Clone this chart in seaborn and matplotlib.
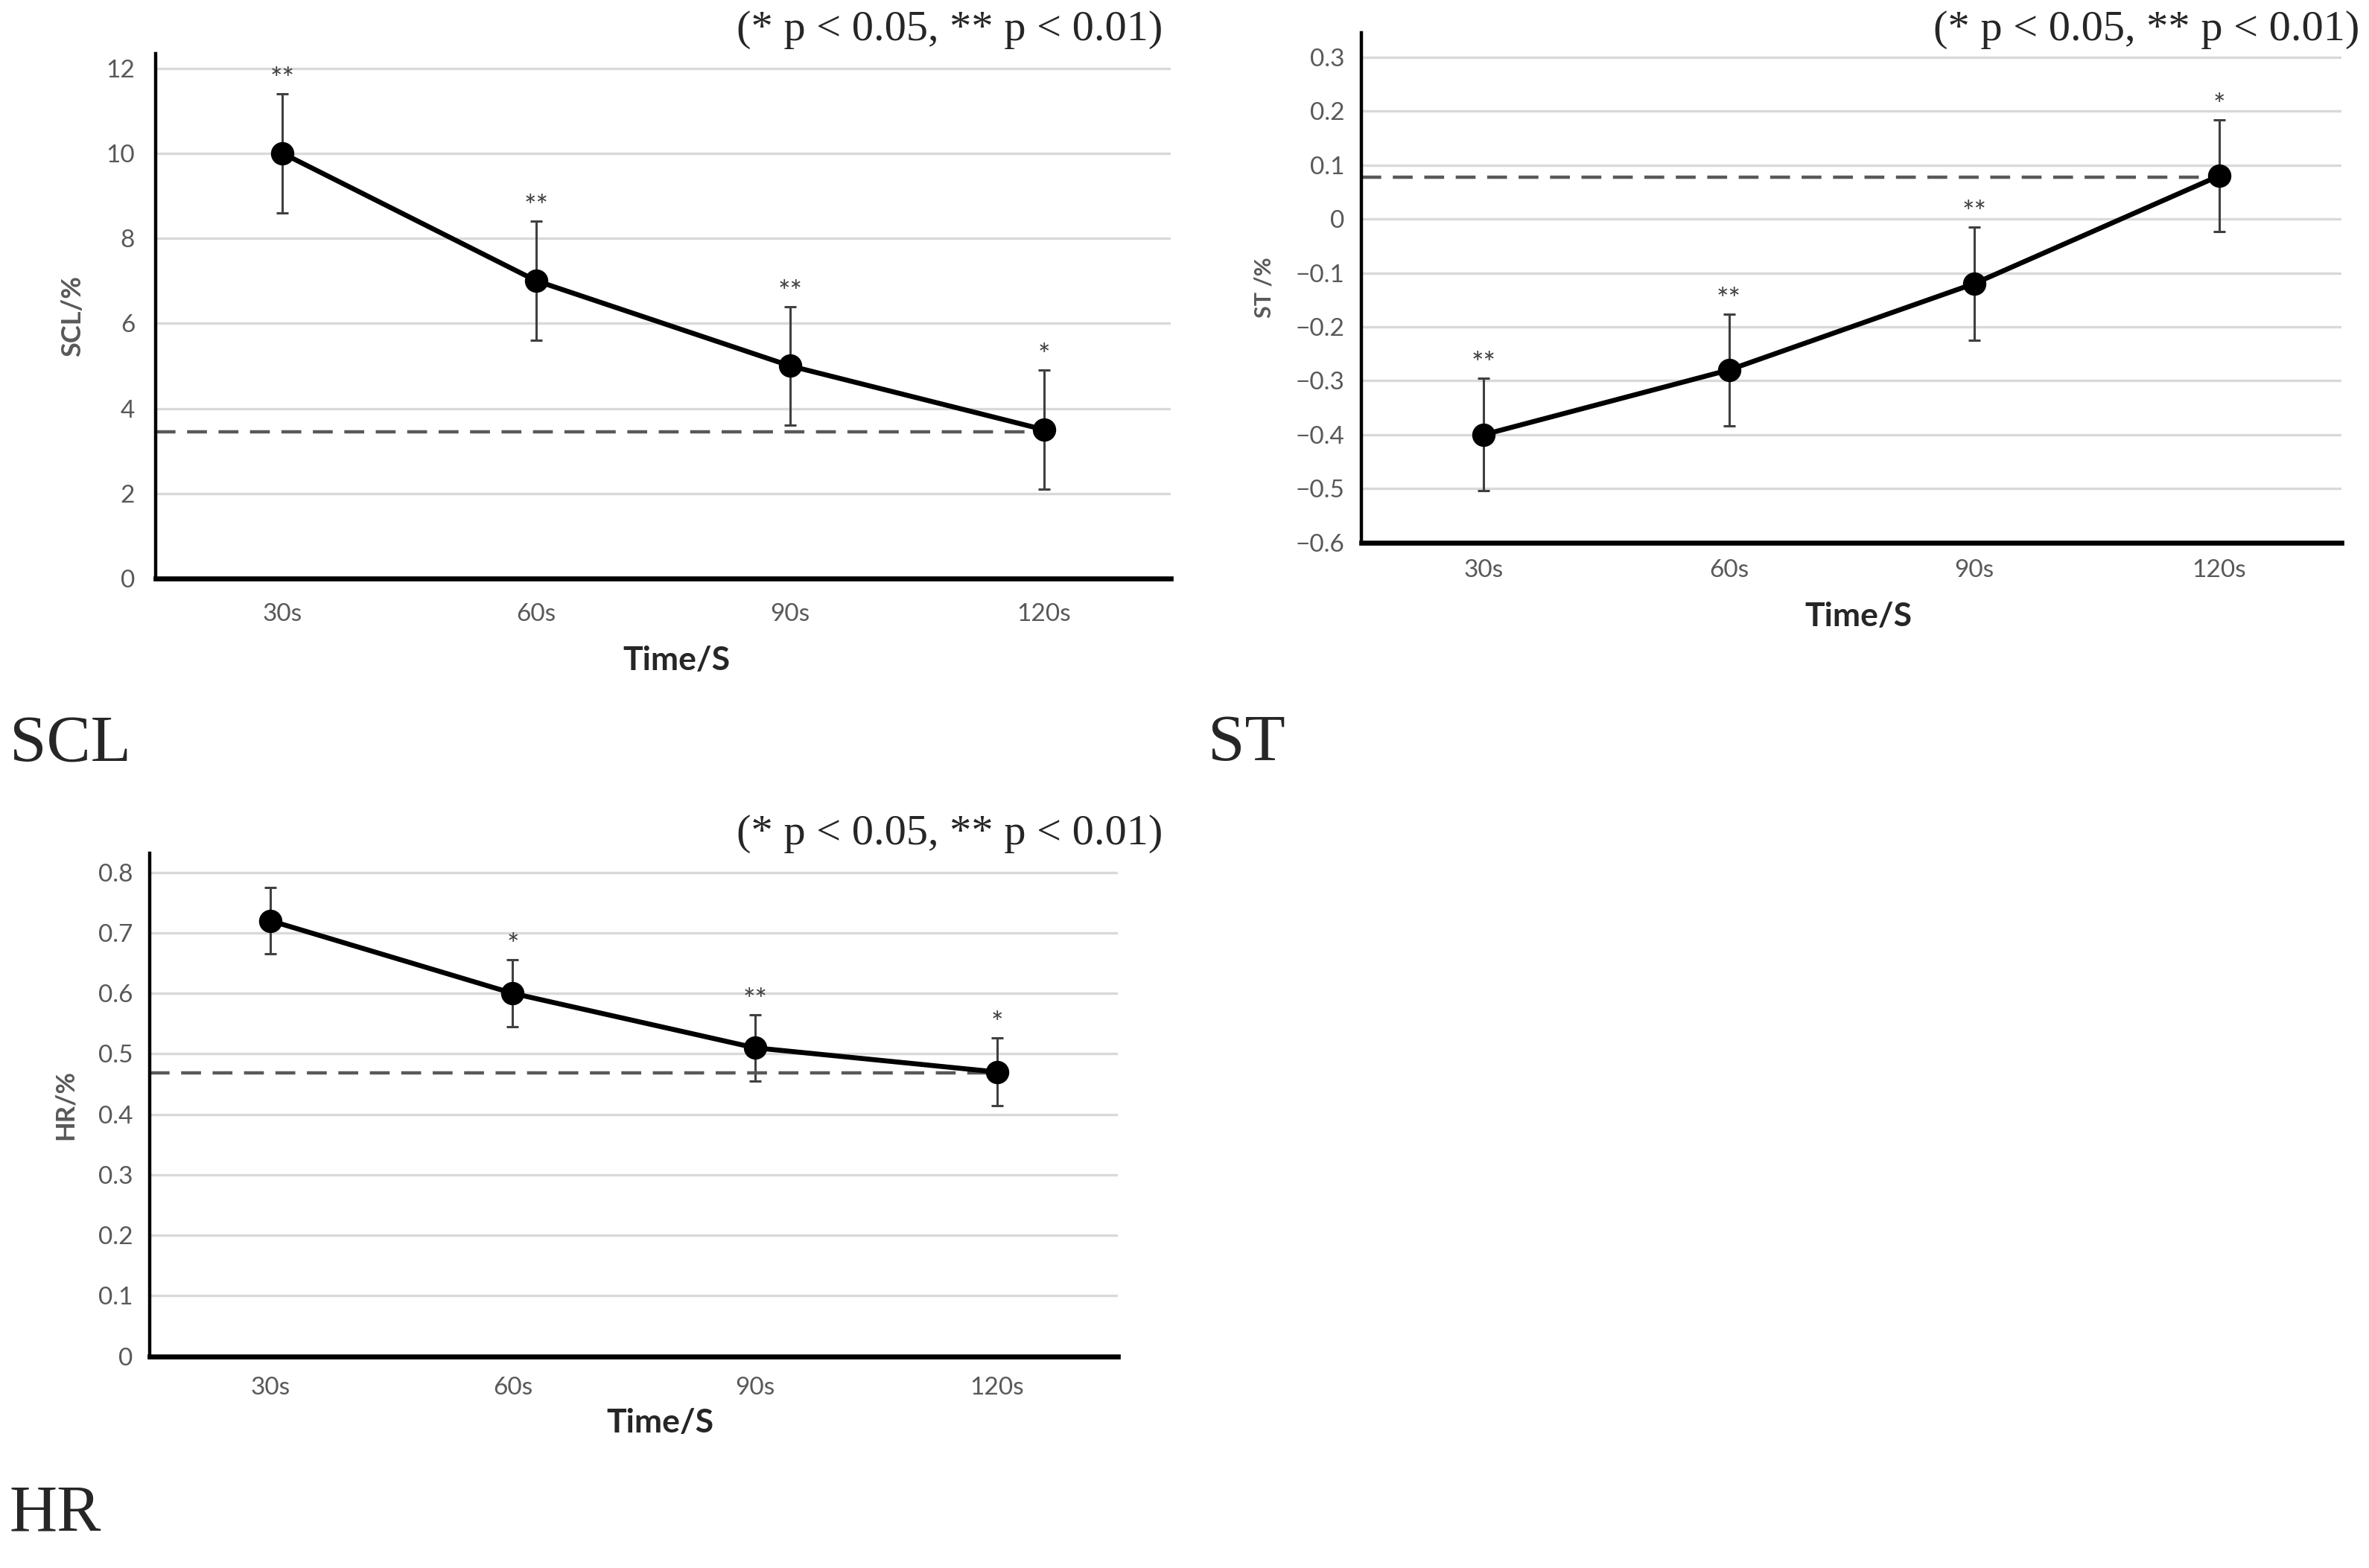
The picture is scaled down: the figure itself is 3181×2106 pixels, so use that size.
import matplotlib
matplotlib.use("Agg")
import matplotlib.pyplot as plt
import seaborn as sns

# data
times = ["30s", "60s", "90s", "120s"]

scl_mean = [10.0, 7.0, 5.0, 3.5]
scl_err = [1.4, 1.4, 1.4, 1.4]
scl_sig = ["**", "**", "**", "*"]
scl_ref = 3.45
scl_ticks = [0, 2, 4, 6, 8, 10, 12]

st_mean = [-0.40, -0.28, -0.12, 0.08]
st_err = [0.104, 0.104, 0.105, 0.104]
st_sig = ["**", "**", "**", "*"]
st_ref = 0.078
st_ticks = [-0.6, -0.5, -0.4, -0.3, -0.2, -0.1, 0, 0.1, 0.2, 0.3]
st_ticklabels = ["\u22120.6", "\u22120.5", "\u22120.4", "\u22120.3", "\u22120.2", "\u22120.1",
                 "0", "0.1", "0.2", "0.3"]

hr_mean = [0.72, 0.60, 0.51, 0.47]
hr_err = [0.055, 0.055, 0.055, 0.056]
hr_sig = ["", "*", "**", "*"]
hr_ref = 0.468
hr_ticks = [0, 0.1, 0.2, 0.3, 0.4, 0.5, 0.6, 0.7, 0.8]
hr_ticklabels = ["0", "0.1", "0.2", "0.3", "0.4", "0.5", "0.6", "0.7", "0.8"]

sns.set_style("white")
plt.rcParams['font.family'] = ['Lato', 'DejaVu Sans']

fig = plt.figure(figsize=(15.905, 10.53), dpi=200)

TICK_GREY = "#595959"
SERIF = ['Liberation Serif', 'DejaVu Serif']


def panel(rect, mean, err, sig, ref, ylim, ticks, ticklabels, ylabel, ylsize, xpad, ypad):
    ax = fig.add_axes(rect)
    ax.set_axisbelow(True)
    ax.yaxis.grid(True, color="#d9d9d9", linewidth=1.2)
    ax.errorbar(range(len(times)), mean, yerr=err, fmt="none", ecolor="#404040",
                elinewidth=1.1, capsize=3, capthick=1.1, zorder=1.5)
    sns.pointplot(x=times, y=mean, color="black", markers="o", errorbar=None,
                  ax=ax, markersize=9.5, linewidth=2.4)
    ax.hlines(ref, -0.5, 3, colors="#595959", linewidth=1.6,
              linestyles=(0, (6, 3.5)), zorder=1.8)
    for i, s in enumerate(sig):
        if s:
            ax.annotate(s, (i, mean[i] + err[i]), xytext=(0, 0), textcoords="offset points",
                        ha="center", va="bottom", fontsize=14, color="#404040")
    ax.set_xlim(-0.5, 3.5)
    ax.set_ylim(*ylim)
    ax.set_yticks(ticks)
    ax.set_yticklabels(ticklabels)
    ax.tick_params(axis="both", length=0, labelsize=12, labelcolor=TICK_GREY)
    ax.tick_params(axis="x", pad=xpad)
    ax.tick_params(axis="y", pad=ypad)
    ax.set_xlabel("")
    ax.set_ylabel(ylabel, fontsize=ylsize, color=TICK_GREY, fontweight="bold", labelpad=10)
    for side in ["top", "right"]:
        ax.spines[side].set_visible(False)
    ax.spines["left"].set_linewidth(1.6)
    ax.spines["left"].set_color("black")
    ax.spines["bottom"].set_linewidth(2.4)
    ax.spines["bottom"].set_color("black")
    return ax


ax1 = panel([0.0657, 0.631, 0.4286, 0.335], scl_mean, scl_err, scl_sig, scl_ref,
            (0, 12.35), scl_ticks, [str(t) for t in scl_ticks], "SCL/%", 13, 12, 10)
ax2 = panel([0.5746, 0.654, 0.4139, 0.325], st_mean, st_err, st_sig, st_ref,
            (-0.6, 0.345), st_ticks, st_ticklabels, "ST /%", 11, 8, 8)
ax3 = panel([0.0631, 0.135, 0.4089, 0.321], hr_mean, hr_err, hr_sig, hr_ref,
            (0, 0.832), hr_ticks, hr_ticklabels, "HR/%", 12.5, 10, 8)

# x axis titles
fig.text(0.2857, 0.579, "Time/S", ha="center", va="center", fontsize=16, fontweight="bold")
fig.text(0.7845, 0.607, "Time/S", ha="center", va="center", fontsize=16, fontweight="bold")
fig.text(0.2787, 0.0925, "Time/S", ha="center", va="center", fontsize=16, fontweight="bold")

# significance notes
note = "(* p < 0.05, ** p < 0.01)"
fig.text(0.491, 0.981, note, ha="right", va="center", fontsize=21, family=SERIF)
fig.text(0.996, 0.981, note, ha="right", va="center", fontsize=21, family=SERIF)
fig.text(0.491, 0.468, note, ha="right", va="center", fontsize=21, family=SERIF)

# panel letters
fig.text(0.004, 0.515, "SCL", ha="left", va="baseline", fontsize=32, family=SERIF)
fig.text(0.510, 0.515, "ST", ha="left", va="baseline", fontsize=32, family=SERIF)
fig.text(0.004, 0.024, "HR", ha="left", va="baseline", fontsize=32, family=SERIF)

fig.savefig("out.png", dpi=200, facecolor="white")
